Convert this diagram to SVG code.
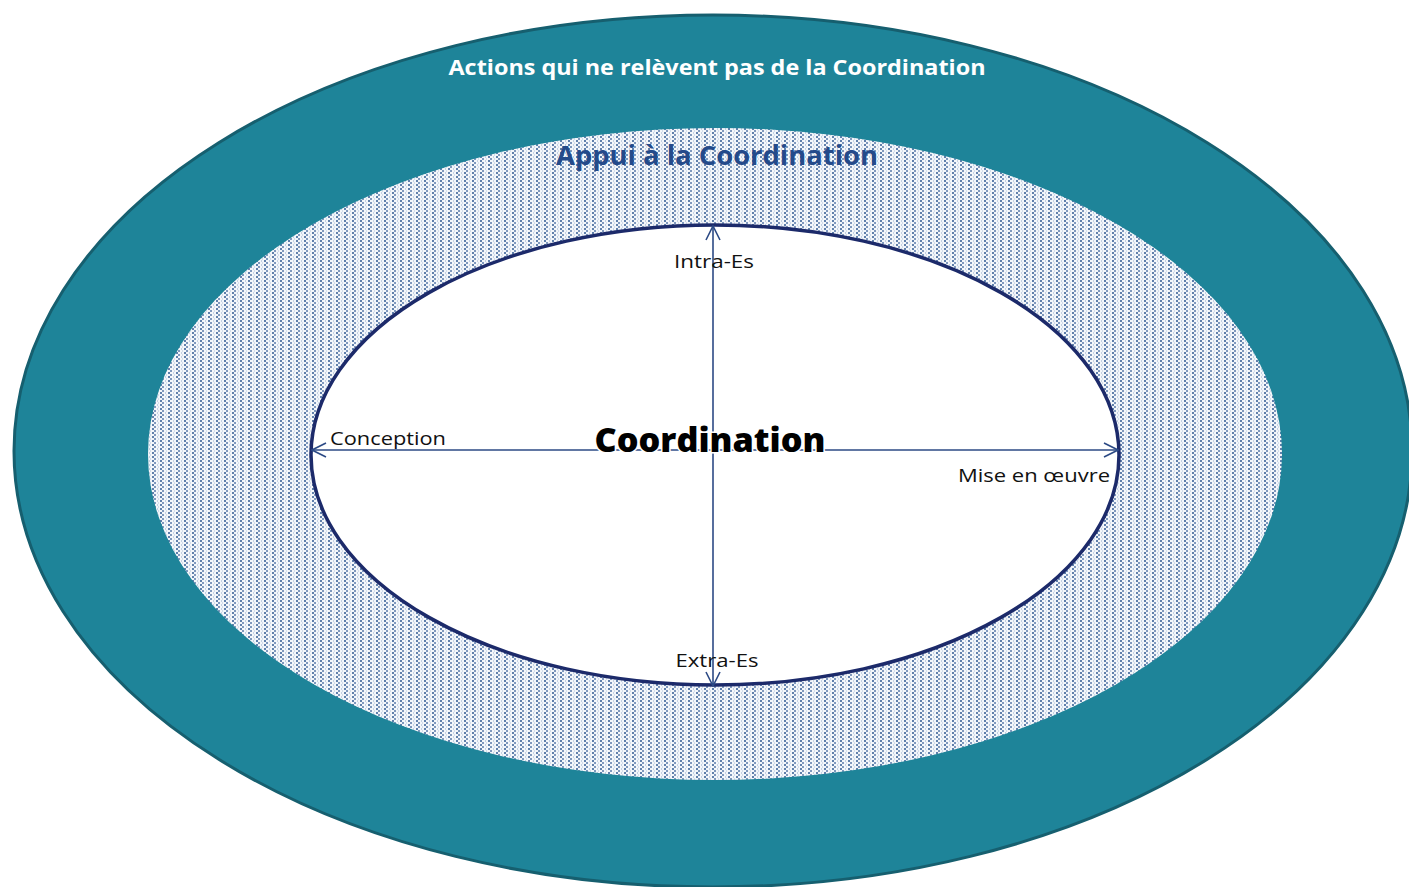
<svg xmlns="http://www.w3.org/2000/svg" width="1409" height="887" viewBox="0 0 1409 887">
  <style>
    .lbl { font-family: "Open Sans", "Noto Sans", "Liberation Sans", sans-serif; font-size: 18px; fill: #111; }
    .axis { stroke: #2c4a85; stroke-width: 1.6; fill: none; }
  </style>
  <defs>
    <!-- dotted vertical-stripe screen used for the support ring -->
    <pattern id="dots" width="8" height="4" patternUnits="userSpaceOnUse">
      <rect width="8" height="4" fill="#f3f6fa"/>
      <rect x="0" y="0" width="2" height="2" fill="#5f7fab"/>
      <rect x="2" y="2" width="2" height="2" fill="#7f98bd"/>
      <rect x="5" y="0" width="1" height="2" fill="#c3d0e2"/>
      <rect x="6" y="2" width="1" height="2" fill="#d2dcea"/>
    </pattern>
    <marker id="open" viewBox="0 0 16 16" refX="15" refY="8" markerWidth="16" markerHeight="16" markerUnits="userSpaceOnUse" orient="auto-start-reverse">
      <path d="M1,1 L15,8 L1,15" fill="none" stroke="#2c4a85" stroke-width="1.6"/>
    </marker>
  </defs>

  <rect width="1409" height="887" fill="#ffffff"/>

  <g id="outer">
    <ellipse cx="713" cy="451" rx="699" ry="436" fill="#1e8499" stroke="#165f6f" stroke-width="3"/>
    <text x="717" y="75" text-anchor="middle" textLength="537" lengthAdjust="spacingAndGlyphs" font-family="'Open Sans', 'Noto Sans', sans-serif" font-weight="bold" font-size="22" fill="#ffffff">Actions qui ne relèvent pas de la Coordination</text>
  </g>

  <g id="appui">
    <ellipse cx="715" cy="454" rx="567" ry="326" fill="url(#dots)"/>
    <text x="717" y="165" text-anchor="middle" textLength="322" lengthAdjust="spacingAndGlyphs" font-family="'Open Sans', 'Noto Sans', sans-serif" font-weight="bold" font-size="26" fill="#244a8a">Appui à la Coordination</text>
  </g>

  <g id="coordination">
    <ellipse cx="715" cy="455" rx="404" ry="230" fill="#ffffff" stroke="#1c2a6a" stroke-width="3.5"/>
  </g>

  <g id="connectors">
    <line class="axis" x1="713" y1="226" x2="713" y2="686" marker-start="url(#open)" marker-end="url(#open)"/>
    <line class="axis" x1="312" y1="450" x2="1118" y2="450" marker-start="url(#open)" marker-end="url(#open)"/>
  </g>

  <g id="center-label">
    <text x="710" y="452" text-anchor="middle" textLength="231" lengthAdjust="spacingAndGlyphs" font-family="'Open Sans', 'Noto Sans', sans-serif" font-weight="800" font-size="34" fill="#000000" stroke="#ffffff" stroke-width="3" paint-order="stroke">Coordination</text>
  </g>

  <g id="axis-labels">
    <text class="lbl" x="714" y="268" text-anchor="middle" textLength="80" lengthAdjust="spacingAndGlyphs">Intra-Es</text>
    <text class="lbl" x="330" y="445" textLength="116" lengthAdjust="spacingAndGlyphs">Conception</text>
    <text class="lbl" x="958" y="482" textLength="152" lengthAdjust="spacingAndGlyphs">Mise en œuvre</text>
    <text class="lbl" x="717" y="667" text-anchor="middle" textLength="83" lengthAdjust="spacingAndGlyphs">Extra-Es</text>
  </g>
</svg>
